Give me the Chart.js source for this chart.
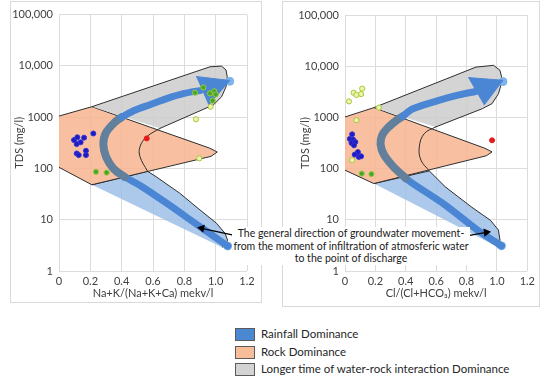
<!DOCTYPE html>
<html>
<head>
<meta charset="utf-8">
<script src="https://cdn.jsdelivr.net/npm/chart.js@4.4.1/dist/chart.umd.min.js"></script>
<style>
  body { margin: 0; width: 550px; height: 380px; background: #fff; position: relative; overflow: hidden; font-family: Lato, "Open Sans", sans-serif; }
  .panel { position: absolute; border: 1px solid #d9d9d9; background: #fff; }
  .panel canvas { display: block; }
  .note { position: absolute; left: 232px; top: 227px; width: 238px; background: #fff; color: #1a1a1a;
          font-size: 10.5px; line-height: 12.5px; text-align: center; white-space: nowrap; }
  .legend { position: absolute; left: 235px; top: 327px; font-size: 11.5px; color: #262626; }
  .legend div { position: relative; height: 17.5px; padding-left: 26px; line-height: 14px; }
  .legend span { position: absolute; left: 0; top: 1px; width: 18px; height: 11px; border: 1px solid #5a5a5a; }
</style>
</head>
<body>
<div class="panel" style="left:10px;top:1px;width:250px;height:300px"><canvas id="cNa" width="250" height="300"></canvas></div>
<div class="panel" style="left:282px;top:1px;width:256px;height:304px"><canvas id="cCl" width="256" height="304"></canvas></div>
<div class="note">The general direction of groundwater movement-<br>from the moment of infiltration of atmosferic water<br>to the point of discharge</div>
<div class="legend">
  <div><span style="background:#4a88d2"></span>Rainfall Dominance</div>
  <div><span style="background:#f7bd9b"></span>Rock Dominance</div>
  <div><span style="background:#d3d3d3"></span>Longer time of water-rock interaction Dominance</div>
</div>
<script>
// axes
const tdsTicks = [1, 10, 100, 1000, 10000, 100000];
const tdsLabels = ['1', '10', '100', '1000', '10,000', '100,000'];
const ratioTicks = [0, 0.2, 0.4, 0.6, 0.8, 1.0, 1.2];
const ratioLabels = ['0', '0.2', '0.4', '0.6', '0.8', '1.0', '1.2'];

// left diagram: Na+K/(Na+K+Ca) vs TDS
const naRain = [[0.21,48],[0.565,88],[0.62,69],[0.77,33],[0.90,15.5],[1.006,8.5],[1.06,5.4],[1.076,4.0],[1.06,3.1],[1.04,2.9]];
const naRock = [[0,1050],[0.21,1600],[0.96,250],[1.01,209],[0.97,172],[0.21,48],[0,105]];
const naLonger = [[0.21,1600],[0.964,9600],[1.038,9900],[1.066,8300],[1.074,6100],[1.066,3900],[1.038,2500],[0.985,1730],[0.645,605]];
const naCurve = [[0.645,605],[0.56,415],[0.517,265],[0.517,170],[0.565,88]];
const naPathLow = [[1.077,3.07],[0.90,7.3],[0.687,21],[0.52,46],[0.42,68]];
const naPathMid = [[0.42,68],[0.347,100],[0.30,170],[0.283,300],[0.30,500],[0.357,800],[0.40,1000]];
const naPathHigh = [[0.40,1000],[0.48,1350],[0.58,1750],[0.687,2300],[0.80,2900],[0.90,3300]];
const naHead = [[0.875,6200],[1.09,5200],[0.955,1700]];
const naPathEnds = [[1.077,3.07],[1.09,5000]];
const naBlue = [[0.096,358],[0.117,405],[0.138,323],[0.113,299],[0.16,398],[0.219,480],[0.113,196],[0.126,182],[0.172,221],[0.172,182]];
const naGreen = [[0.236,86],[0.304,83],[0.868,3000],[0.921,3800],[0.964,2900],[0.991,3200],[1.0,2770],[0.981,2100]];
const naYellow = [[0.968,1600],[0.874,910],[0.895,157]];
const naRed = [[0.56,385]];
const naNote = [[1.112,5.0],[0.911,6.8]];

// right diagram: Cl/(Cl+HCO3) vs TDS
const clRain = [[0.19,51],[0.555,90],[0.66,44],[0.83,18],[0.957,9.8],[1.01,6.3],[1.02,4.0],[1.0,3.0]];
const clRock = [[0,1020],[0.19,1550],[0.92,250],[0.968,212],[0.93,178],[0.19,51],[0,93]];
const clLonger = [[0.19,1550],[0.862,9600],[0.978,10400],[1.02,8300],[1.036,5300],[1.01,2900],[0.968,1860],[0.904,1480],[0.596,650]];
const clCurve = [[0.596,650],[0.521,480],[0.489,265],[0.5,146],[0.555,90]];
const clPathLow = [[1.03,3.1],[0.872,6.3],[0.66,19.4],[0.447,51],[0.40,65]];
const clPathMid = [[0.40,65],[0.319,108],[0.255,190],[0.234,300],[0.245,450],[0.28,620],[0.34,880],[0.38,1050]];
const clPathHigh = [[0.38,1050],[0.447,1480],[0.617,2150],[0.75,2750],[0.86,3200]];
const clHead = [[0.81,6000],[1.04,5300],[0.915,1730]];
const clPathEnds = [[1.03,3.1],[1.04,5000]];
const clBlue = [[0.047,468],[0.032,380],[0.053,370],[0.043,317],[0.068,330],[0.059,285],[0.085,210],[0.064,188],[0.091,169],[0.106,174]];
const clGreen = [[0.11,80],[0.174,78]];
const clYellow = [[0.026,2050],[0.057,3030],[0.075,2750],[0.106,2860],[0.113,3650],[0.223,1550],[0.075,880],[0.047,146]];
const clRed = [[0.968,357]];
const clNote = [[0.72,4.4],[0.93,5.7]];

const pts = a => a.map(([x, y]) => ({ x, y }));

function poly(d, color, order) {
    return { data: pts(d), fill: 'shape', backgroundColor: color, borderColor: '#2e2e2e', borderWidth: 1, pointRadius: 0, order };
}
function line(d, color, width, order, tension) {
    return { data: pts(d), borderColor: color, borderWidth: width, pointRadius: 0, tension: tension || 0,
             borderCapStyle: 'round', borderJoinStyle: 'round', fill: false, order };
}
function dots(d, fill, border, r, order) {
    return { data: pts(d), showLine: false, pointRadius: r, backgroundColor: fill, borderColor: border, borderWidth: 1, order };
}

Chart.defaults.font.family = 'Lato, "Open Sans", sans-serif';
Chart.defaults.font.size = 11;
Chart.defaults.color = '#404040';

function makeChart(id, s, xTitle, pad) {
    const blue = '#4a86d4';
    const slate = '#62809c';
    return new Chart(document.getElementById(id), {
        type: 'line',
        data: {
            datasets: [
                // slightly see-through fills so the grid shows through, like the original
                poly(s.rain, 'rgba(157,191,233,0.85)', 20),
                poly(s.rock, 'rgba(247,180,143,0.85)', 19),
                poly(s.longer, 'rgba(204,204,204,0.85)', 18),
                line(s.curve, '#2e2e2e', 1, 17, 0.4),
                dots(s.ends, '#7fb3ea', '#7fb3ea', 4, 16),
                line(s.low, blue, 7, 15, 0.3),
                line(s.mid, slate, 8, 14, 0.3),
                line(s.high, blue, 7, 13, 0.3),
                { data: pts(s.head), fill: 'shape', backgroundColor: blue, borderColor: blue, borderWidth: 1, pointRadius: 0, order: 12 },
                { data: pts(s.note), borderColor: '#000', backgroundColor: '#000', borderWidth: 1.3,
                  pointStyle: 'triangle', pointRadius: [0, 3.5], rotation: [0, s.noteAngle], order: 11 },
                dots(s.yellow, '#eef4a8', '#a4c840', 2.6, 4),
                dots(s.green, '#46a52e', '#9acb3c', 2.6, 3),
                dots(s.blueDots, '#1c1cc0', '#3434d4', 2.5, 2),
                dots(s.red, '#e41b1b', '#e41b1b', 2.5, 1)
            ]
        },
        options: {
            responsive: false,
            animation: false,
            events: [],
            layout: { padding: pad },
            plugins: { legend: { display: false }, tooltip: { enabled: false } },
            scales: {
                x: {
                    type: 'linear', min: 0, max: 1.2,
                    afterBuildTicks: sc => { sc.ticks = ratioTicks.map(v => ({ value: v })); },
                    afterFit: sc => { sc.height = 31; },
                    ticks: { padding: 4, callback: (v, i) => ratioLabels[i] },
                    grid: { color: '#dcdcdc', drawTicks: false },
                    border: { display: false },
                    title: { display: true, text: xTitle, padding: { top: 0, bottom: 2 } }
                },
                y: {
                    type: 'logarithmic', min: 1, max: 100000,
                    afterBuildTicks: sc => { sc.ticks = tdsTicks.map(v => ({ value: v })); },
                    afterFit: sc => { sc.width = 48; },
                    ticks: { padding: 6, callback: (v, i) => tdsLabels[i] },
                    grid: { color: '#dcdcdc', drawTicks: false },
                    border: { display: false },
                    title: { display: true, text: 'TDS (mg/l)', padding: { top: 2, bottom: 0 } }
                }
            }
        }
    });
}

makeChart('cNa', {
    rain: naRain, rock: naRock, longer: naLonger, curve: naCurve,
    low: naPathLow, mid: naPathMid, high: naPathHigh, head: naHead, ends: naPathEnds,
    note: naNote, noteAngle: 282,
    blueDots: naBlue, green: naGreen, yellow: naYellow, red: naRed
}, 'Na+K/(Na+K+Ca) mekv/l', { left: 0, right: 14, top: 12, bottom: 0 });

makeChart('cCl', {
    rain: clRain, rock: clRock, longer: clLonger, curve: clCurve,
    low: clPathLow, mid: clPathMid, high: clPathHigh, head: clHead, ends: clPathEnds,
    note: clNote, noteAngle: 83,
    blueDots: clBlue, green: clGreen, yellow: clYellow, red: clRed
}, 'Cl/(Cl+HCO\u2083) mekv/l', { left: 14, right: 8, top: 13, bottom: 4 });
</script>
</body>
</html>
